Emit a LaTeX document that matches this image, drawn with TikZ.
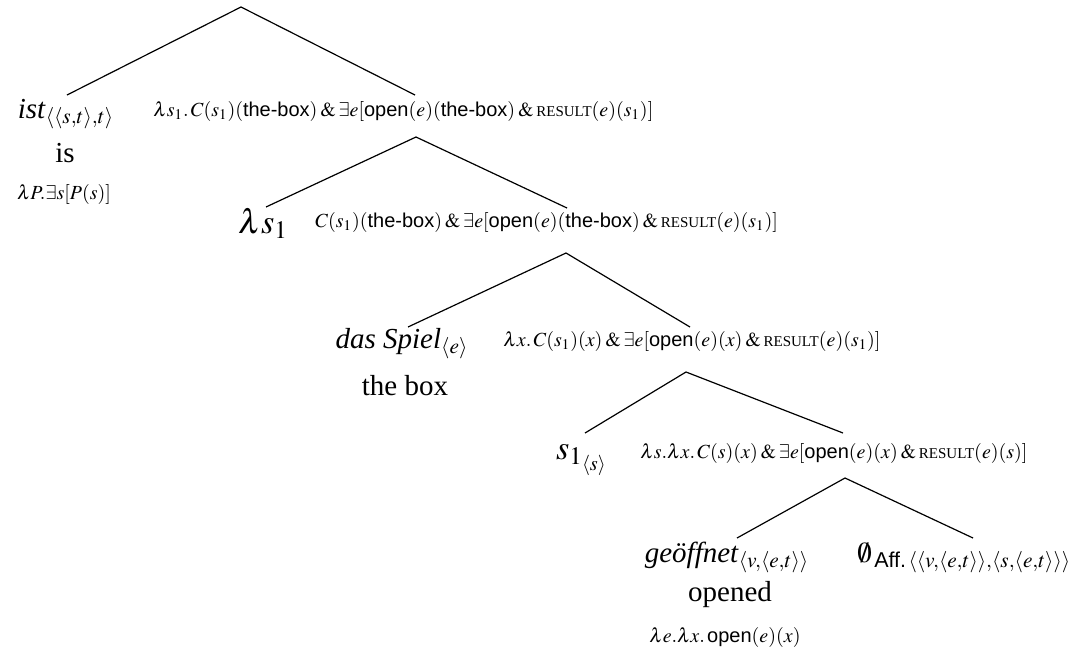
\documentclass[tikz,border=0pt]{standalone}
\usepackage{amsmath}
\usepackage{mathptmx}
\usepackage[no-math]{fontspec}
\setmainfont{Liberation Serif}
\setsansfont{Liberation Sans}
\newcommand{\tbox}{\textsf{the-box}}
\newcommand{\opn}{\textsf{open}}
\newcommand{\RES}{\mbox{\fontsize{7.5}{9}\selectfont RESULT}}
\newcommand{\amp}{\mathbin{\&}}
\begin{document}
\begin{tikzpicture}[x=0.5pt,y=-0.5pt,
  lbl/.style={font=\fontsize{10}{12}\selectfont, inner sep=0pt, anchor=base west},
  big/.style={font=\fontsize{14.5}{17}\selectfont, inner sep=0pt, anchor=base},
  bigm/.style={font=\fontsize{17}{20}\selectfont, inner sep=0pt, anchor=base},
  sml/.style={font=\fontsize{10}{12}\selectfont, inner sep=0pt, anchor=base},
  br/.style={line width=0.6pt}]
\useasboundingbox (0,0) rectangle (1090,649);
% leaves and labels
\node[big] (ist) at (66,118) {\textit{ist}$_{\langle\langle s,t\rangle,t\rangle}$};
\node[big] (is) at (65,162) {is};
\node[sml] (istsem) at (64,199) {$\lambda P.\exists s[P(s)]$};
\node[lbl] (l1) at (153,116) {$\lambda s_1.\,C(s_1)(\tbox)\amp\exists e[\opn(e)(\tbox)\amp\RES(e)(s_1)]$};
\node[bigm] (ls) at (263,233) {$\lambda s_1$};
\node[lbl] (l2) at (315,227) {$C(s_1)(\tbox)\amp\exists e[\opn(e)(\tbox)\amp\RES(e)(s_1)]$};
\node[big] (ds) at (402,348) {\textit{das Spiel}$_{\langle e\rangle}$};
\node[big] (tb) at (405,395) {the box};
\node[lbl] (l3) at (503,346) {$\lambda x.\,C(s_1)(x)\amp\exists e[\opn(e)(x)\amp\RES(e)(s_1)]$};
\node[bigm] (s1) at (582,459) {$s_{1_{\langle s\rangle}}$};
\node[lbl] (l4) at (640,458) {$\lambda s.\lambda x.\,C(s)(x)\amp\exists e[\opn(e)(x)\amp\RES(e)(s)]$};
\node[big] (gf) at (727,562) {\textit{geöffnet}$_{\langle v,\langle e,t\rangle\rangle}$};
\node[big] (op) at (730,601) {opened};
\node[sml] (gfsem) at (725,642) {$\lambda e.\lambda x.\,\opn(e)(x)$};
\node[big, anchor=base west] (aff) at (857,562) {$\emptyset_{\,\textsf{Aff.}\,\langle\langle v,\langle e,t\rangle\rangle,\langle s,\langle e,t\rangle\rangle\rangle}$};
% branch points
\coordinate (r0) at (241,7);
\coordinate (ist-t) at (67,95);
\coordinate (n1-t) at (415,95);
\coordinate (n1-b) at (416,137);
\coordinate (ls-t) at (266,207);
\coordinate (n2-t) at (567,208);
\coordinate (n2-b) at (566,253);
\coordinate (ds-t) at (408,327);
\coordinate (n3-t) at (690,327);
\coordinate (n3-b) at (686,372);
\coordinate (s1-t) at (585,433);
\coordinate (n4-t) at (843,433);
\coordinate (n4-b) at (845,478);
\coordinate (gf-t) at (737,538);
\coordinate (aff-t) at (973,538);
\draw[br] (ist-t) -- (r0) -- (n1-t);
\draw[br] (ls-t) -- (n1-b) -- (n2-t);
\draw[br] (ds-t) -- (n2-b) -- (n3-t);
\draw[br] (s1-t) -- (n3-b) -- (n4-t);
\draw[br] (gf-t) -- (n4-b) -- (aff-t);
\end{tikzpicture}
\end{document}
